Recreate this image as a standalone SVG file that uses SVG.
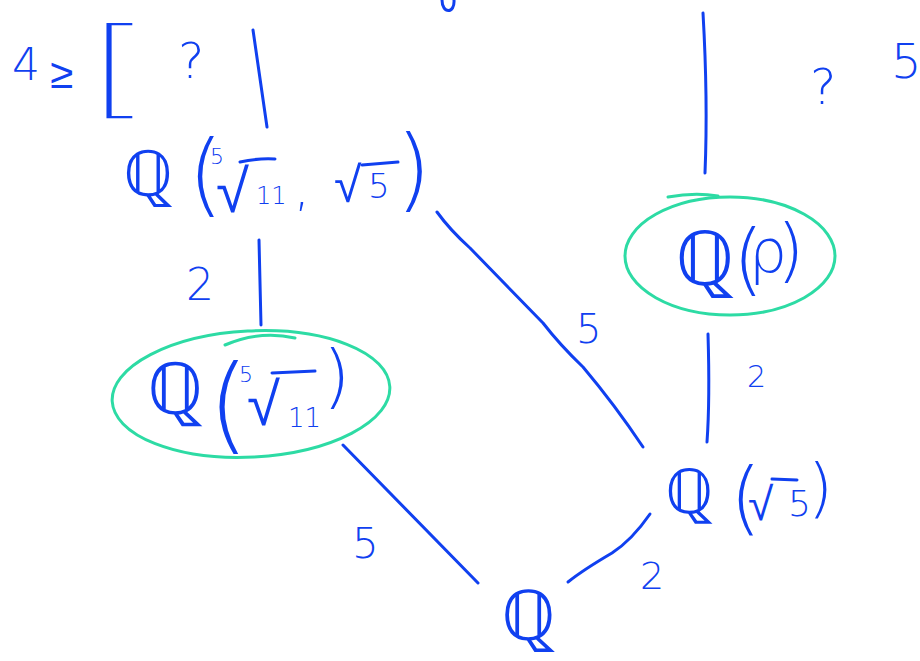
<svg xmlns="http://www.w3.org/2000/svg" width="920" height="661" viewBox="0 0 920 661">
<style>
  .ink{fill:none;stroke:#1040f0;stroke-width:3;stroke-linecap:round;stroke-linejoin:round}
  .hl{fill:none;stroke:#2ddba4;stroke-width:3;stroke-linecap:round}
  text{fill:#1040f0;font-family:"DejaVu Sans","Noto Sans",sans-serif;font-weight:300}
  .thin{font-family:Inter,"Noto Sans",Roboto,sans-serif;font-weight:100}
</style>
<rect width="920" height="661" fill="#ffffff"/>
<g id="connectors">
  <path class="ink" d="M253,30 L267,127"/>
  <path class="ink" d="M703,13 Q708,100 705,173"/>
  <path class="ink" d="M259,240 L261,325"/>
  <path class="ink" d="M437,212 Q450,230 470,248 L543,323 Q560,345 583,367 Q615,405 643,447"/>
  <path class="ink" d="M708,334 Q710,400 707,442"/>
  <path class="ink" d="M343,445 L478,583"/>
  <path class="ink" d="M568,582 Q583,570 612,553 Q632,540 650,514"/>
  <path class="ink" d="M442,0 C442,14 455,14 454,0"/>
</g>
<g id="edge-labels">
  <text x="186" y="300" font-size="44">2</text>
  <text x="576" y="343" font-size="40">5</text>
  <text x="747" y="387" font-size="30">2</text>
  <text x="352" y="558" font-size="42">5</text>
  <text x="640" y="589" font-size="38">2</text>
</g>
<g id="node-top-left">
  <text font-size="44"><tspan x="12" y="80">4</tspan><tspan x="50" y="88" font-size="42">≥</tspan><tspan x="178" y="78" font-size="50">?</tspan></text>
  <text class="thin" transform="translate(78,104) scale(3.8,1.75)" font-size="60">[</text>
</g>
<g id="node-top-right">
  <text x="810" y="104" font-size="50">?</text>
  <text x="891" y="78" font-size="48">5</text>
</g>
<g id="node-q-11-5">
  <text><tspan x="123" y="196" font-size="64">ℚ</tspan><tspan x="188" y="205" font-size="90">(</tspan><tspan x="210" y="164" font-size="22">5</tspan><tspan x="216" y="212" font-size="60">√</tspan><tspan x="256" y="204" font-size="24">11</tspan><tspan x="294" y="205" font-size="50">,</tspan><tspan x="334" y="202" font-size="50">√</tspan><tspan x="368" y="198" font-size="34">5</tspan><tspan x="396" y="200" font-size="90">)</tspan></text>
  <path class="ink" d="M240,162 Q258,158 275,159"/>
  <path class="ink" d="M362,165 L398,162"/>
</g>
<g id="node-q-11">
  <ellipse class="hl" cx="251" cy="394" rx="139" ry="63" transform="rotate(-3 251 394)"/>
  <path class="hl" d="M225,345 Q260,330 295,338"/>
  <text><tspan x="147" y="414" font-size="72">ℚ</tspan><tspan x="208" y="440" font-size="105">(</tspan><tspan x="239" y="382" font-size="22">5</tspan><tspan x="247" y="425" font-size="60">√</tspan><tspan x="288" y="427" font-size="26">11</tspan><tspan x="323" y="400" font-size="70">)</tspan></text>
  <path class="ink" d="M272,373 L315,371"/>
</g>
<g id="node-q-rho">
  <ellipse class="hl" cx="730" cy="256" rx="105" ry="59"/>
  <path class="hl" d="M668,197 Q695,192 718,196"/>
  <text><tspan x="675" y="285" font-size="76">ℚ</tspan><tspan x="733" y="286" font-size="78">(</tspan><tspan x="749" y="272" font-size="60">ρ</tspan><tspan x="777" y="274" font-size="70">)</tspan></text>
</g>
<g id="node-q-5">
  <text><tspan x="665" y="513" font-size="62">ℚ</tspan><tspan x="730" y="525" font-size="80">(</tspan><tspan x="748" y="520" font-size="46">√</tspan><tspan x="788" y="516" font-size="36">5</tspan><tspan x="808" y="510" font-size="64">)</tspan></text>
  <path class="ink" d="M772,479 L797,480"/>
</g>
<g id="node-q">
  <text x="501" y="640" font-size="70">ℚ</text>
</g>
</svg>
